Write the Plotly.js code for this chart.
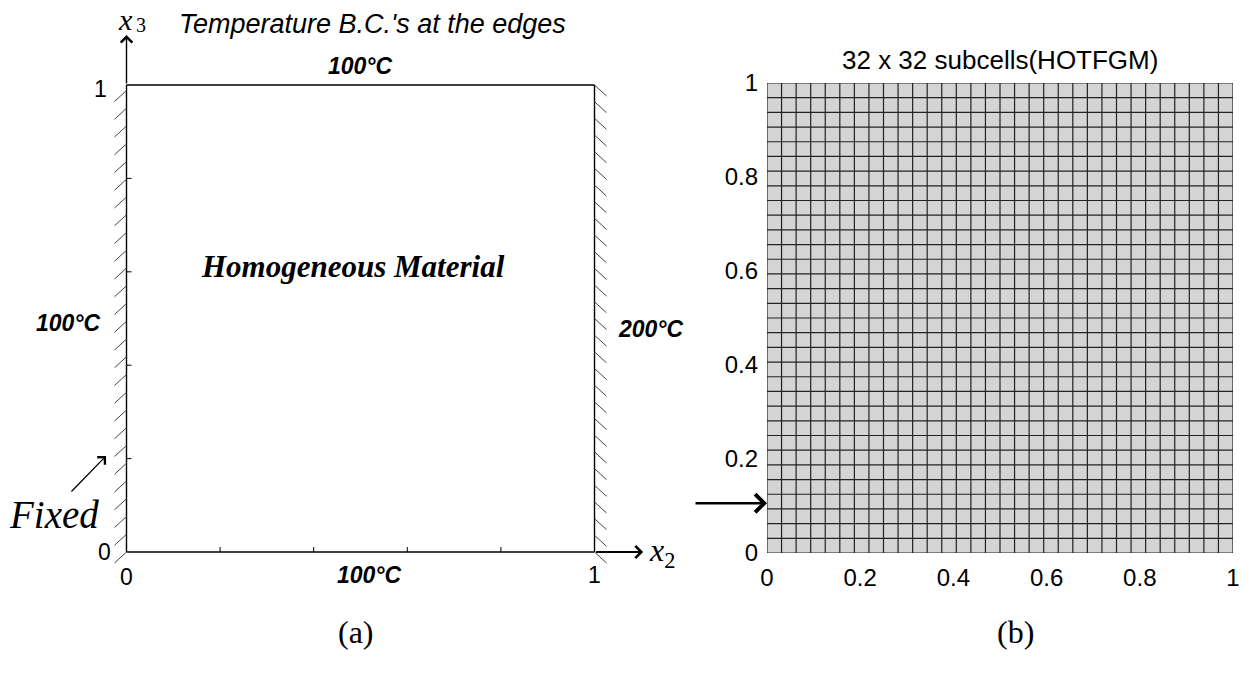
<!DOCTYPE html>
<html><head><meta charset="utf-8">
<script src="https://cdn.plot.ly/plotly-3.0.1.min.js"></script>
<style>html,body{margin:0;padding:0;background:#fff}</style>
</head><body><div id="chart" style="width:1249px;height:673px"></div>
<script>
// ---- data ----
const panelTitleA = "Temperature B.C.'s at the edges";
const panelTitleB = "32 x 32 subcells(HOTFGM)";
const edgeTop = "100°C", edgeLeft = "100°C", edgeBottom = "100°C", edgeRight = "200°C";
const materialLabel = "Homogeneous Material";
const fixedLabel = "Fixed";
const boxTickVals = [0, 1];
const boxTickText = ["0", "1"];
const boxMinorTicks = [0.2, 0.4, 0.6, 0.8];
const subcellCount = 32;
const meshTickVals = [0, 0.2, 0.4, 0.6, 0.8, 1];
const meshTickText = ["0", "0.2", "0.4", "0.6", "0.8", "1"];
const leftHatchCount = 27;
const rightHatchCount = 29;
const arrowY = 0.106;   // position pointed at on the mesh

// ---- helpers ----
const pxX = 468, pxY = 467; // pixels per unit on left panel
const traces = [];
const ink = '#000';

// box (panel a)
traces.push({type:'scatter', mode:'lines', xaxis:'x', yaxis:'y',
  x:[0,1,null,1,1,null,0,0,null,0,1], y:[1,1,null,0,1,null,0,1,null,0,0],
  line:{color:ink, width:1.4}, hoverinfo:'skip'});
// inward minor ticks
const tx=[], ty=[];
boxMinorTicks.forEach(v=>{
  tx.push(v,v,null, 0,5/pxX,null); ty.push(0,5/pxY,null, v,v,null);
});
traces.push({type:'scatter', mode:'lines', xaxis:'x', yaxis:'y', x:tx, y:ty,
  line:{color:ink, width:1}, hoverinfo:'skip'});
// hatching
const hx=[], hy=[];
const lStep = 17.75/pxY;
for(let k=0;k<leftHatchCount;k++){
  const y0 = k*lStep;
  hx.push(0, -12/pxX, null); hy.push(y0, y0-11/pxY, null);
}
for(let k=0;k<rightHatchCount;k++){
  const y0 = 1 - k/(rightHatchCount-1);
  hx.push(1, 1+12/pxX, null); hy.push(y0, y0-11/pxY, null);
}
traces.push({type:'scatter', mode:'lines', xaxis:'x', yaxis:'y', x:hx, y:hy,
  line:{color:'#444', width:1}, hoverinfo:'skip'});

// mesh (panel b)
const centers=[], z=[];
for(let i=0;i<subcellCount;i++) centers.push((i+0.5)/subcellCount);
for(let j=0;j<subcellCount;j++){ const row=[]; for(let i=0;i<subcellCount;i++) row.push(1); z.push(row); }
traces.push({type:'heatmap', xaxis:'x2', yaxis:'y2', x:centers, y:centers, z:z,
  colorscale:[[0,'#d4d4d4'],[1,'#d4d4d4']], showscale:false, hoverinfo:'skip'});
const gx=[], gy=[];
for(let i=0;i<=subcellCount;i++){
  const v=i/subcellCount;
  gx.push(v,v,null, 0,1,null); gy.push(0,1,null, v,v,null);
}
traces.push({type:'scatter', mode:'lines', xaxis:'x2', yaxis:'y2', x:gx, y:gy,
  line:{color:'#222', width:1.2}, hoverinfo:'skip'});

const sans = 'Liberation Sans, Arial, sans-serif';
const serif = 'Liberation Serif, Times New Roman, serif';
function ann(text, x, y, size, family, extra){
  return Object.assign({text:text, x:x, y:y, xref:'x', yref:'y', showarrow:false,
    font:{size:size, family:family, color:ink}, xanchor:'center', yanchor:'middle'}, extra||{});
}
const annotations = [
  ann('<i>'+panelTitleA+'</i>', 0.5246, 1.1306, 27, sans),
  ann('<b><i>'+edgeTop+'</i></b>', 0.499, 1.0407, 23, sans),
  ann('<b><i>'+edgeLeft+'</i></b>', -0.123, 0.490, 23, sans),
  ann('<b><i>'+edgeRight+'</i></b>', 1.1207, 0.4775, 23, sans),
  ann('<b><i>'+edgeBottom+'</i></b>', 0.520, -0.0493, 23, sans),
  ann('<b><i>'+materialLabel+'</i></b>', 0.484, 0.612, 31, serif),
  ann('<i>'+fixedLabel+'</i>', -0.155, 0.08, 39, serif),
  ann('<i>x</i>', -0.0032, 1.1805, 30, serif, {yanchor:'top'}),
  ann('3', 0.031, 1.1563, 20, serif, {yanchor:'top'}),
  ann('<i>x</i><sub>2</sub>', 1.144, -0.002, 32, serif),
  ann(boxTickText[0], -0.046, boxTickVals[0], 23, sans),
  ann(boxTickText[1], -0.0566, boxTickVals[1]-0.008, 23, sans),
  ann(boxTickText[0], boxTickVals[0], -0.0535, 23, sans),
  ann(boxTickText[1], boxTickVals[1], -0.049, 23, sans),
  // arrows
  {x:0, y:1.107, ax:0, ay:1, xref:'x', yref:'y', axref:'x', ayref:'y', text:'', showarrow:true,
   arrowhead:4, arrowwidth:1.4, arrowsize:1.6, arrowcolor:ink},
  {x:1.104, y:0, ax:1, ay:0, xref:'x', yref:'y', axref:'x', ayref:'y', text:'', showarrow:true,
   arrowhead:4, arrowwidth:1.8, arrowsize:1.3, arrowcolor:ink},
  {x:-0.0438, y:0.2056, ax:-36, ay:37, xref:'x', yref:'y', text:'', showarrow:true,
   arrowhead:4, arrowwidth:1.3, arrowsize:1.6, arrowcolor:ink},
  {x:0, y:arrowY, ax:-73, ay:0, xref:'x2', yref:'y2', text:'', showarrow:true,
   arrowhead:4, arrowwidth:2.5, arrowsize:1.4, arrowcolor:ink},
  // mesh title and panel letters
  {text:panelTitleB, x:1000/1249, y:1-60/673, xref:'paper', yref:'paper', showarrow:false,
   font:{size:26, family:sans, color:ink}, xanchor:'center', yanchor:'middle'},
  {text:'(a)', x:356/1249, y:1-632/673, xref:'paper', yref:'paper', showarrow:false,
   font:{size:32, family:serif, color:ink}, xanchor:'center', yanchor:'middle'},
  {text:'(b)', x:1015/1249, y:1-632/673, xref:'paper', yref:'paper', showarrow:false,
   font:{size:32, family:serif, color:ink}, xanchor:'center', yanchor:'middle'}
];

const hidden = {visible:true, showgrid:false, zeroline:false, showline:false, showticklabels:false, ticks:''};
const layout = {
  width:1249, height:673, margin:{l:0,r:0,t:0,b:0}, showlegend:false,
  paper_bgcolor:'#fff', plot_bgcolor:'rgba(0,0,0,0)', hovermode:false,
  xaxis:Object.assign({domain:[0,0.576], range:[-0.2703,1.2669], fixedrange:true}, hidden),
  yaxis:Object.assign({domain:[0,1], range:[-0.2591,1.1820], fixedrange:true}, hidden),
  xaxis2:{domain:[767/1249,1233/1249], range:[0,1], anchor:'y2', tickvals:meshTickVals, ticktext:meshTickText,
    showgrid:false, zeroline:false, showline:false, ticks:'', ticklabelstandoff:8,
    tickfont:{size:24, family:sans, color:ink}, fixedrange:true},
  yaxis2:{domain:[(673-553)/673,(673-83)/673], range:[0,1], anchor:'x2', tickvals:meshTickVals, ticktext:meshTickText,
    showgrid:false, zeroline:false, showline:false, ticks:'', ticklabelstandoff:8,
    tickfont:{size:24, family:sans, color:ink}, fixedrange:true},
  annotations:annotations
};
Plotly.newPlot('chart', traces, layout, {staticPlot:true, displayModeBar:false});
</script></body></html>
